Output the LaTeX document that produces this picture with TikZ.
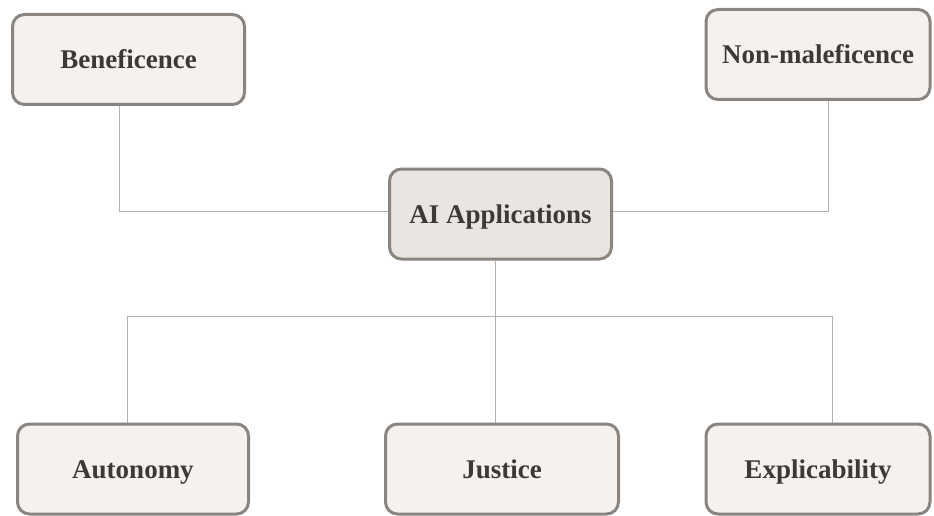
\documentclass[tikz,border=0pt]{standalone}
\usepackage{fontspec}
\setmainfont{Liberation Serif}
\definecolor{boxline}{HTML}{8A8580}
\definecolor{boxfill}{HTML}{F4F1EE}
\definecolor{hubfill}{HTML}{E9E5E1}
\definecolor{txt}{HTML}{3C3A38}
\definecolor{conn}{HTML}{B5B0AB}
\begin{document}
\begin{tikzpicture}[x=1pt,y=-1pt,
  pbox/.style={draw=boxline, line width=3pt, fill=boxfill, rounded corners=12pt,
    minimum height=90pt, text=txt, font=\fontsize{27}{30}\selectfont\bfseries, inner sep=0pt,
    text height=23pt, text depth=4pt},
  hub/.style={pbox, fill=hubfill},
  link/.style={draw=conn, line width=1pt}]
\useasboundingbox (0,0) rectangle (934,516);
\node[pbox, minimum width=232pt] (ben) at (128.5,59.5) {Beneficence};
\node[pbox, minimum width=224pt] (non) at (818,54.5) {Non-maleficence};
\node[hub, minimum width=222pt] (ai) at (500.5,214) {AI Applications};
\node[pbox, minimum width=231pt] (aut) at (133,469) {Autonomy};
\node[pbox, minimum width=233pt] (jus) at (502,469) {Justice};
\node[pbox, minimum width=224pt] (exp) at (818,469) {Explicability};
\coordinate (jl) at (119,211);
\coordinate (jr) at (828,211);
\coordinate (jb) at (495,316);
\coordinate (bl) at (127,316);
\coordinate (br) at (832,316);
\draw[link] (ben.south -| jl) -- (jl) -- (jl -| ai.west);
\draw[link] (non.south -| jr) -- (jr) -- (jr -| ai.east);
\draw[link] (ai.south -| jb) -- (jus.north -| jb);
\draw[link] (bl) -- (br);
\draw[link] (bl) -- (aut.north -| bl);
\draw[link] (br) -- (exp.north -| br);
\end{tikzpicture}
\end{document}
